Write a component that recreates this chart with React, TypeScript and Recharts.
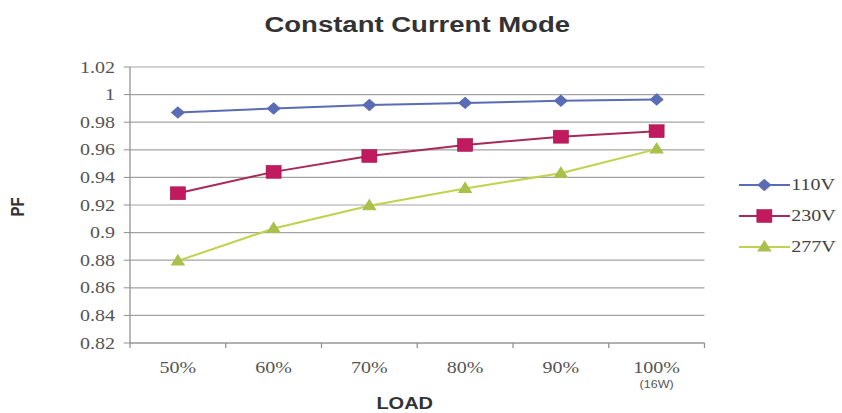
import React from 'react';
import { LineChart, Line, XAxis, YAxis, CartesianGrid, Legend } from 'recharts';

// load steps on the x axis
const loads = ['50%', '60%', '70%', '80%', '90%', '100%'];
const loadNotes = ['', '', '', '', '', '(16W)'];

// power factor per input voltage
const pf110 = [0.987, 0.99, 0.9925, 0.994, 0.9955, 0.9965];
const pf230 = [0.9285, 0.944, 0.9555, 0.9635, 0.9695, 0.9735];
const pf277 = [0.8795, 0.903, 0.9195, 0.932, 0.943, 0.9605];

const yTicks = [0.82, 0.84, 0.86, 0.88, 0.9, 0.92, 0.94, 0.96, 0.98, 1, 1.02];

const series = [
  { key: 'v110', name: '110V', line: '#5a6cb3', fill: '#5a6cb3', shape: 'diamond' },
  { key: 'v230', name: '230V', line: '#a82a5c', fill: '#c21a5e', shape: 'square' },
  { key: 'v277', name: '277V', line: '#c2d24e', fill: '#a9c04c', shape: 'triangle' },
];

const data = loads.map((load, i) => ({
  load,
  v110: pf110[i],
  v230: pf230[i],
  v277: pf277[i],
}));

// the reference looks stretched sideways, so draw narrower and scale up
const SCALE = 1.25;
const FULL_W = 842;
const W = FULL_W / SCALE;
const H = 413;
const PLOT_LEFT = 104;
const PLOT_RIGHT = 110;
const BAND = (W - PLOT_LEFT - PLOT_RIGHT) / loads.length;
const AXIS = '#8f8f8f';
const SERIF = '"Liberation Serif", "Times New Roman", serif';
const SANS = '"Liberation Sans", Arial, sans-serif';

const Marker = ({ shape, cx, cy, color }: { shape: string; cx: number; cy: number; color: string }) => {
  if (shape === 'diamond') {
    return <polygon points={`${cx},${cy - 5.5} ${cx + 5},${cy} ${cx},${cy + 5.5} ${cx - 5},${cy}`} fill={color} stroke={color} />;
  }
  if (shape === 'square') {
    return <rect x={cx - 6} y={cy - 6.5} width={12} height={13} fill={color} stroke="#9a1448" strokeWidth={0.5} />;
  }
  return <polygon points={`${cx},${cy - 6} ${cx + 5},${cy + 4} ${cx - 5},${cy + 4}`} fill={color} stroke={color} />;
};

const makeDot = (shape: string, color: string) => (props: any) => {
  const { cx, cy, index } = props;
  if (cx == null || cy == null) return <g key={`e-${index}`} />;
  return (
    <g key={`${shape}-${index}`}>
      <Marker shape={shape} cx={cx} cy={cy} color={color} />
    </g>
  );
};

const LoadTick = (props: any) => {
  const { x, y, payload, index } = props;
  const note = loadNotes[index];
  const last = index === loads.length - 1;
  return (
    <g>
      <line x1={x - BAND / 2} x2={x - BAND / 2} y1={y} y2={y + 5} stroke={AXIS} />
      {last && <line x1={x + BAND / 2} x2={x + BAND / 2} y1={y} y2={y + 5} stroke={AXIS} />}
      <text x={x} y={y + 30} textAnchor="middle" fontFamily={SERIF} fontSize={16} fill="#555">
        {payload.value}
      </text>
      {note && (
        <text x={x} y={y + 45} textAnchor="middle" fontFamily={SANS} fontSize={10} fill="#555">
          {note}
        </text>
      )}
    </g>
  );
};

const LegendBox = () => (
  <div style={{ fontFamily: SERIF, fontSize: 16, color: '#444' }}>
    {series.map((s) => (
      <div key={s.key} style={{ display: 'flex', alignItems: 'center', height: 31 }}>
        <svg width={41} height={16} style={{ display: 'block' }}>
          <line x1={0} x2={41} y1={8} y2={8} stroke={s.line} strokeWidth={2} />
          <Marker shape={s.shape} cx={20.5} cy={8} color={s.fill} />
        </svg>
        <span style={{ marginLeft: 1 }}>{s.name}</span>
      </div>
    ))}
  </div>
);

export default function App() {
  return (
    <div style={{ position: 'absolute', left: 0, top: 0, width: FULL_W, height: H, overflow: 'hidden', background: '#fff' }}>
      <div style={{ position: 'relative', width: W, height: H, transform: `scaleX(${SCALE})`, transformOrigin: '0 0' }}>
        <div
          style={{
            position: 'absolute',
            left: PLOT_LEFT,
            width: W - PLOT_LEFT - PLOT_RIGHT,
            top: 12,
            textAlign: 'center',
            fontFamily: SANS,
            fontWeight: 'bold',
            fontSize: 22,
            color: '#333',
          }}
        >
          Constant Current Mode
        </div>
        <LineChart width={W} height={H} data={data} margin={{ top: 67, right: PLOT_RIGHT, bottom: 0, left: 0 }}>
          <CartesianGrid vertical={false} stroke="#a3a3a3" strokeWidth={1.2} />
          <XAxis
            dataKey="load"
            height={70}
            stroke={AXIS}
            padding={{ left: BAND / 2, right: BAND / 2 }}
            tickLine={false}
            tickSize={0}
            tickMargin={0}
            interval={0}
            tick={<LoadTick />}
            label={{
              content: (p: any) => {
                const vb = p.viewBox;
                return (
                  <text x={vb.x + vb.width / 2 - 10} y={vb.y + 66} textAnchor="middle" fontFamily={SANS} fontWeight="bold" fontSize={16} fill="#333">
                    LOAD
                  </text>
                );
              },
            }}
          />
          <YAxis
            width={PLOT_LEFT}
            domain={[0.82, 1.02]}
            ticks={yTicks}
            interval={0}
            stroke={AXIS}
            tickSize={5}
            tickMargin={7}
            tickFormatter={(v: number) => String(Number(v.toFixed(2)))}
            tick={{ fontFamily: SERIF, fontSize: 16, fill: '#555' }}
            label={{
              content: (p: any) => {
                const vb = p.viewBox;
                const cx = 14;
                const cy = vb.y + vb.height / 2 + 2;
                return (
                  <text x={cx} y={cy} transform={`rotate(-90, ${cx}, ${cy})`} textAnchor="middle" dominantBaseline="central" fontFamily={SANS} fontWeight="bold" fontSize={15} fill="#333">
                    PF
                  </text>
                );
              },
            }}
          />
          <Legend
            layout="vertical"
            verticalAlign="middle"
            align="center"
            content={<LegendBox />}
            wrapperStyle={{ left: 591, top: 169, width: 90 }}
          />
          {series.map((s) => (
            <Line
              key={s.key}
              type="linear"
              dataKey={s.key}
              name={s.name}
              stroke={s.line}
              strokeWidth={2}
              dot={makeDot(s.shape, s.fill)}
              activeDot={false}
              isAnimationActive={false}
            />
          ))}
        </LineChart>
      </div>
    </div>
  );
}
